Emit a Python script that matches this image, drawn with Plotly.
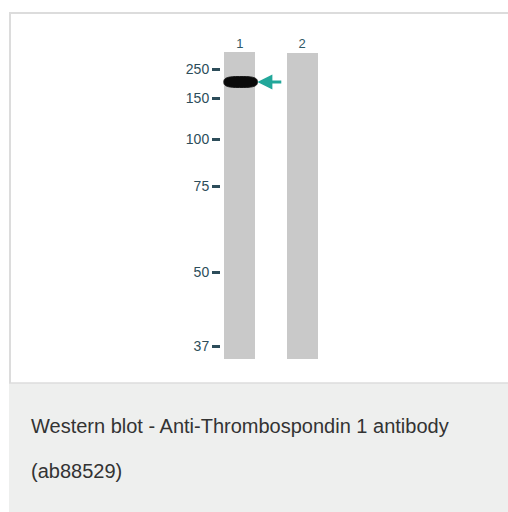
import plotly.graph_objects as go
import numpy as np

W, H = 508, 512

# ---- data ----
lanes = [1, 2]
lane_labels = ["1", "2"]
lane_top = [0, 1]            # migration (px units) at which each lane starts
lane_bottom = [307, 307]
marker_labels = ["250", "150", "100", "75", "50", "37"]
marker_migration = [17, 46, 87, 134, 220, 294]
band_lane = 1
band_migration = 30          # ~180 kDa
band_thickness = 11


def fx(x):
    return x / W


def fy(y):
    return 1 - y / H


fig = go.Figure()

fig.add_trace(go.Bar(
    x=lanes,
    y=[b - t for t, b in zip(lane_top, lane_bottom)],
    base=lane_top,
    width=0.5,
    marker=dict(color="#c9c9c9", line=dict(width=0)),
    hoverinfo="skip",
    showlegend=False,
))

# band as a superellipse path in data coordinates
half_w = 0.27
t = np.linspace(0, 2 * np.pi, 80)
n = 3.0
xs = band_lane + 0.01 + half_w * np.sign(np.cos(t)) * np.abs(np.cos(t)) ** (2 / n)
ys = band_migration + (band_thickness / 2) * np.sign(np.sin(t)) * np.abs(np.sin(t)) ** (2 / n)
path = "M " + " L ".join(f"{a:.4f},{b:.3f}" for a, b in zip(xs, ys)) + " Z"

frame_col = "#dcdcdc"
shapes = [
    dict(type="rect", xref="paper", yref="paper",
         x0=fx(9), x1=1.01, y0=-0.01, y1=fy(383),
         fillcolor="#eeefee", line=dict(width=0), layer="below"),
    dict(type="line", xref="paper", yref="paper",
         x0=fx(9), x1=1.01, y0=fy(13), y1=fy(13),
         line=dict(color=frame_col, width=2), layer="below"),
    dict(type="line", xref="paper", yref="paper",
         x0=fx(10), x1=fx(10), y0=fy(12), y1=fy(383),
         line=dict(color=frame_col, width=2), layer="below"),
    dict(type="line", xref="paper", yref="paper",
         x0=fx(9), x1=1.01, y0=fy(383), y1=fy(383),
         line=dict(color=frame_col, width=1.5), layer="below"),
    dict(type="path", xref="x", yref="y", path=path,
         fillcolor="#0a0a0a", line=dict(color="#1a1a1a", width=1)),
]

cap_font = dict(family="Liberation Sans, Arial", size=20, color="#333333")
annotations = [
    dict(x=band_lane + 0.28, y=band_migration, xref="x", yref="y",
         ax=band_lane + 0.69, ay=band_migration, axref="x", ayref="y",
         text="", showarrow=True, arrowhead=2, arrowsize=1.0,
         arrowwidth=3, arrowcolor="#22a79a"),
    dict(x=fx(29), y=fy(426), xref="paper", yref="paper",
         xanchor="left", yanchor="middle", showarrow=False,
         text="Western blot - Anti-Thrombospondin 1 antibody", font=cap_font),
    dict(x=fx(29), y=fy(471), xref="paper", yref="paper",
         xanchor="left", yanchor="middle", showarrow=False,
         text="(ab88529)", font=cap_font),
]

tick_color = "#2d4d5a"
fig.update_layout(
    width=W, height=H,
    margin=dict(l=0, r=0, t=0, b=0),
    paper_bgcolor="white", plot_bgcolor="rgba(0,0,0,0)",
    shapes=shapes, annotations=annotations,
    bargap=0,
    xaxis=dict(domain=[fx(221), fx(321)], range=[0.694, 2.306],
               side="top", tickvals=lanes, ticktext=lane_labels,
               ticks="", showgrid=False, zeroline=False, showline=False,
               tickfont=dict(family="Liberation Sans, Arial", size=13, color="#2f5966"),
               fixedrange=True),
    yaxis=dict(domain=[fy(359), fy(52)], range=[307, 0],
               tickvals=marker_migration, ticktext=marker_labels,
               ticks="outside", ticklen=8, tickwidth=2.5, tickcolor=tick_color,
               showgrid=False, zeroline=False, showline=False,
               tickfont=dict(family="Liberation Sans, Arial", size=14, color=tick_color),
               fixedrange=True),
)

fig.write_html(
    "out.html",
    config={"displayModeBar": False},
    post_script="document.body.style.margin='0';document.body.style.overflow='hidden';",
)
